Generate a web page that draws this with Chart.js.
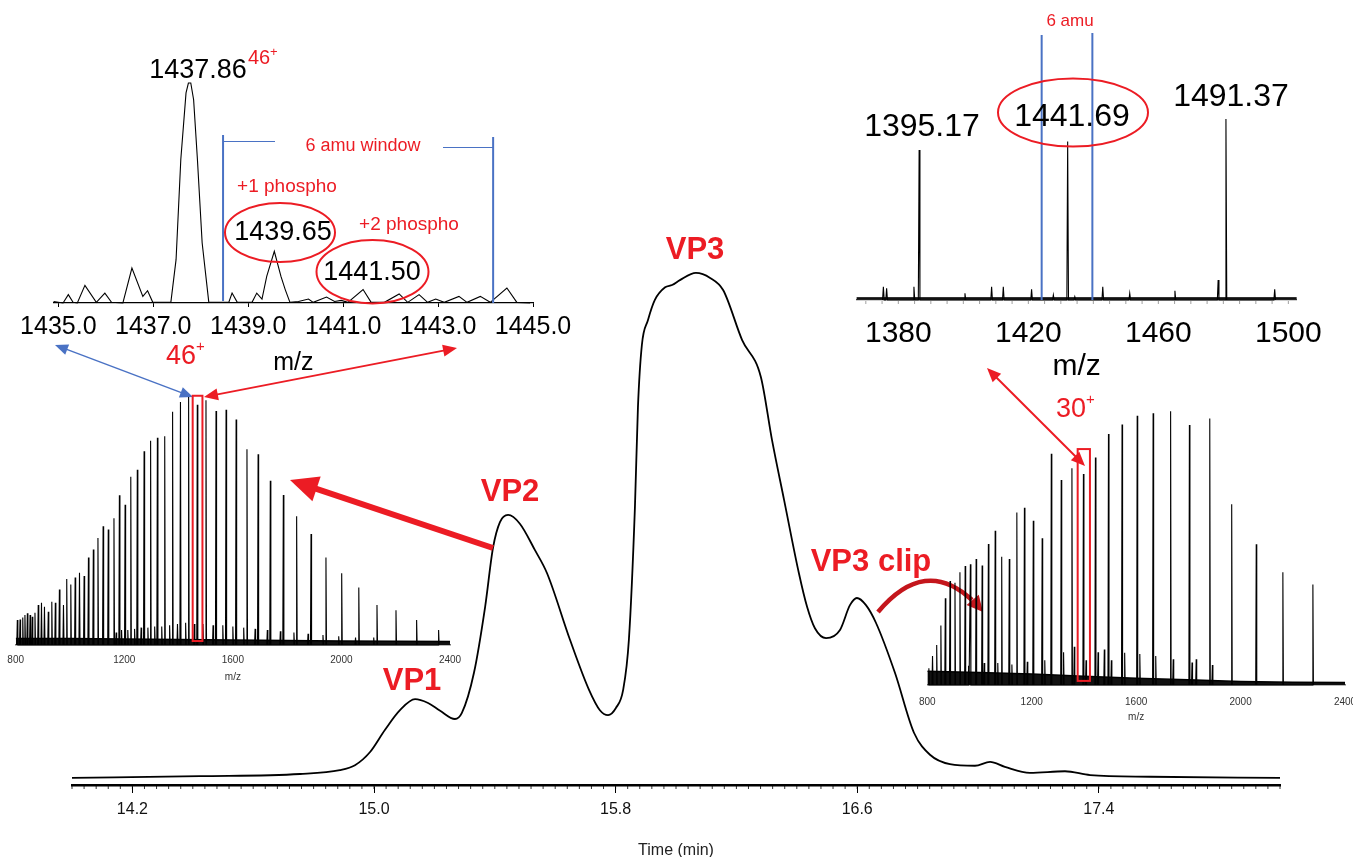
<!DOCTYPE html>
<html>
<head>
<meta charset="utf-8">
<script src="https://cdn.jsdelivr.net/npm/chart.js@4.4.1/dist/chart.umd.min.js"></script>
<style>
html, body { margin: 0; padding: 0; background: #fff; overflow: hidden; }
#wrap { position: relative; width: 1353px; height: 857px; overflow: hidden; }
#wrap canvas { position: absolute; }
</style>
</head>
<body>
<div id="wrap">
  <canvas id="main" width="1353" height="860" style="left:0;top:0"></canvas>
  <canvas id="vp2" width="470" height="310" style="left:0;top:380px"></canvas>
  <canvas id="clip" width="453" height="335" style="left:900px;top:390px"></canvas>
  <canvas id="zoomL" width="600" height="400" style="left:0;top:0"></canvas>
  <canvas id="zoomR" width="513" height="400" style="left:840px;top:0"></canvas>
</div>
<script>
// ---- chromatogram (time in min, relative intensity) ----
const timeMin = [14.000, 14.424, 14.755, 14.887, 14.937, 14.987, 15.036, 15.086, 15.136, 15.179,
  15.219, 15.268, 15.291, 15.331, 15.368, 15.394, 15.417, 15.444, 15.483, 15.533,
  15.573, 15.649, 15.712, 15.748, 15.775, 15.801, 15.825, 15.844, 15.864, 15.874,
  15.887, 15.907, 15.930, 15.964, 15.987, 16.013, 16.066, 16.113, 16.156, 16.219,
  16.281, 16.318, 16.358, 16.407, 16.434, 16.460, 16.497, 16.543, 16.576, 16.599,
  16.629, 16.662, 16.725, 16.788, 16.841, 16.907, 16.990, 17.040, 17.089, 17.172,
  17.288, 17.371, 17.570, 18.000];
const uvSignal = [1.3, 1.6, 2.0, 2.7, 3.6, 6.0, 10.0, 13.6, 15.6, 14.9,
  13.5, 12.0, 13.1, 20.4, 32.4, 43.1, 47.8, 49.1, 47.5, 42.7,
  38.5, 26.4, 17.3, 13.6, 12.7, 14.0, 17.3, 26.4, 50.5, 68.7,
  80.0, 84.5, 88.2, 90.5, 90.9, 91.8, 93.1, 92.2, 90.0, 80.9,
  74.2, 62.7, 51.8, 38.5, 32.4, 28.5, 26.7, 28.2, 32.7, 34.0,
  32.7, 29.5, 20.4, 9.5, 5.5, 3.8, 3.5, 4.2, 3.3, 2.2,
  2.5, 1.8, 1.5, 1.3];
const timeTicks = [14.2, 15.0, 15.8, 16.6, 17.4];

// ---- VP2 full mass spectrum ----
const vp2Mz = [806, 816, 826, 834, 843, 853, 861, 871, 883, 895, 906, 920, 933, 946, 961, 976, 988,
  1003, 1019, 1035, 1052, 1068, 1086, 1103, 1122, 1141, 1162, 1182, 1203, 1224, 1248, 1273,
  1297, 1322, 1349, 1378, 1407, 1437, 1469, 1501, 1538, 1575, 1612, 1652, 1693, 1738, 1786,
  1835, 1888, 1943, 2001, 2064, 2131, 2201, 2277, 2358];
const vp2Int = [10.1, 10.3, 11.1, 12.1, 12.8, 12.1, 11.4, 13.0, 16.1, 17.0, 15.4, 13.4, 17.4, 17.0,
  22.4, 16.1, 26.6, 24.4, 27.2, 29.1, 27.8, 35.3, 38.5, 43.1, 47.9, 46.6, 51.1, 60.4, 56.6,
  67.8, 70.7, 78.1, 82.4, 83.6, 84.2, 94.1, 98.0, 100, 96.9, 98.7, 94.4, 94.9, 90.9, 78.9,
  76.9, 66.2, 60.5, 51.9, 44.8, 35.3, 28.9, 23.2, 16.1, 14.0, 10.1, 6.0];
const vp2MinorMz = [1170, 1190, 1213, 1238, 1262, 1287, 1312, 1338, 1367, 1396, 1426, 1458, 1490,
  1527, 1563, 1600, 1640, 1682, 1727, 1775, 1825, 1877, 1932, 1990, 2052, 2119];
const vp2MinorInt = [5, 6, 6, 6.5, 7, 7, 7.5, 7.5, 8, 8.5, 9, 8.5, 8.5, 8, 8, 7.5, 7, 6.5, 6,
  5.5, 5, 4.5, 4, 3.5, 3, 3];
const vp2NoiseMz = [800, 1000, 1200, 1400, 1600, 1800, 2000, 2200, 2400];
const vp2NoiseInt = [2.6, 2.6, 2.4, 2.2, 2.0, 1.8, 1.6, 1.5, 1.4];

// ---- VP3 clip full mass spectrum ----
const clipMz = [806, 820, 836, 852, 869, 887, 906, 925, 945, 965, 987, 1010, 1034, 1060, 1085,
  1114, 1143, 1172, 1206, 1240, 1275, 1313, 1354, 1398, 1444, 1494, 1546, 1604, 1665, 1732,
  1804, 1882, 1966, 2060, 2162, 2277];
const clipInt = [6.1, 10.6, 14.6, 21.7, 31.7, 38.0, 37.4, 41.2, 43.5, 44.1, 46.0, 43.7, 51.5,
  56.4, 46.9, 46.0, 63.0, 64.8, 60.0, 53.6, 84.5, 74.9, 79.2, 77.1, 83.1, 91.7, 95.2, 98.4,
  99.3, 100, 95.0, 97.4, 66.0, 51.4, 41.2, 36.7];
const clipMinorMz = [958, 1018, 1070, 1124, 1183, 1250, 1322, 1363, 1408, 1454, 1478, 1505, 1556,
  1614, 1675, 1742, 1814, 1830, 1892];
const clipMinorInt = [7, 8, 8, 7.5, 8.5, 9, 12, 14, 9, 12, 13, 9, 11.8, 11.3, 10.6, 9.4, 8.2, 9.4, 7.3];
const clipNoiseMz = [800, 1000, 1200, 1400, 1600, 1800, 2000, 2200, 2400];
const clipNoiseInt = [5.0, 4.6, 4.0, 3.2, 2.5, 1.9, 1.3, 1.0, 0.9];

// ---- zoomed 46+ profile (VP2) ----
const zoomLMz = [1434.90, 1435.10, 1435.21, 1435.31, 1435.40, 1435.56, 1435.80, 1435.98, 1436.12,
  1436.36, 1436.55, 1436.78, 1436.88, 1436.99, 1437.37, 1437.48, 1437.58, 1437.69, 1437.74,
  1437.79, 1437.85, 1437.93, 1438.03, 1438.17, 1438.59, 1438.66, 1438.77, 1439.08, 1439.18,
  1439.29, 1439.39, 1439.55, 1439.69, 1439.78, 1439.88, 1440.06, 1440.27, 1440.37, 1440.65,
  1440.82, 1440.96, 1441.10, 1441.42, 1441.59, 1441.87, 1442.18, 1442.36, 1442.60, 1442.78,
  1442.95, 1443.13, 1443.44, 1443.61, 1443.89, 1444.10, 1444.45, 1444.66, 1444.94];
const zoomLInt = [0.7, 0, 3.8, 0.3, 0, 8.0, 0.3, 4.5, 0.3,
  0, 15.9, 3.0, 5.6, 0.3, 0.3, 19.7, 65.2, 95.5, 100,
  100, 92.4, 65.2, 27.3, 0.3, 0.3, 4.5, 0.3, 0.3, 4.5,
  1.8, 12.1, 23.5, 12.1, 6.1, 0.3, 0.7, 1.8, 0.3, 2.7,
  0.7, 1.2, 0.3, 6.1, 0.3, 0.3, 4.1, 0.3, 3.8, 0.3,
  1.8, 0.3, 3.0, 0.3, 3.0, 0.3, 6.8, 0.3, 0];
const zoomLTicks = [1435, 1437, 1439, 1441, 1443, 1445];
const zoomLWindow = [1438.47, 1444.16];

// ---- zoomed 30+ region (VP3 clip) ----
const zoomRMz = [1375.4, 1376.4, 1384.8, 1386.4, 1400.5, 1408.7, 1412.3, 1421.0, 1427.7, 1432.1,
  1434.3, 1442.9, 1451.2, 1465.1, 1478.4, 1480.8, 1495.8];
const zoomRInt = [7.3, 6.5, 7.3, 82.9, 3.7, 7.3, 7.3, 5.9, 2.8, 87.5,
  1.8, 7.3, 3.7, 5.1, 11.0, 100, 5.9];
const zoomRTicks = [1380, 1420, 1460, 1500];
const zoomRWindow = [1424.1, 1439.7];

const RED = '#ec1c24';
const BLUE = '#4a72c4';
const FONT = '"Liberation Sans", Arial, Helvetica, sans-serif';
Chart.defaults.font.family = FONT;
Chart.defaults.color = '#000';

function sticks(mz, inten, half) {
  const peaks = mz.map((m, i) => [m, inten[i]]).sort((a, b) => a[0] - b[0]);
  const pts = [];
  peaks.forEach(p => { pts.push({x: p[0] - half, y: 0}, {x: p[0], y: p[1]}, {x: p[0] + half, y: 0}); });
  return pts;
}
function pairs(xs, ys) { return xs.map((x, i) => ({x: x, y: ys[i]})); }

function fixedAxis(h) {
  return function (scale) { scale.height = h; scale.paddingLeft = 0; scale.paddingRight = 0; };
}

function text(ctx, s, x, y, font, color, align) {
  ctx.font = font;
  ctx.fillStyle = color;
  ctx.textAlign = align || 'center';
  ctx.textBaseline = 'middle';
  ctx.fillText(s, x, y);
}
function head(ctx, x1, y1, x2, y2, len, half) {
  const a = Math.atan2(y2 - y1, x2 - x1);
  const bx = x2 - len * Math.cos(a), by = y2 - len * Math.sin(a);
  ctx.beginPath();
  ctx.moveTo(x2, y2);
  ctx.lineTo(bx + half * Math.sin(a), by - half * Math.cos(a));
  ctx.lineTo(bx - half * Math.sin(a), by + half * Math.cos(a));
  ctx.closePath();
  ctx.fill();
}
function arrow(ctx, x1, y1, x2, y2, color, width, len, half, both) {
  ctx.save();
  ctx.strokeStyle = color; ctx.fillStyle = color; ctx.lineWidth = width;
  const a = Math.atan2(y2 - y1, x2 - x1);
  const sx = both ? x1 + len * 0.8 * Math.cos(a) : x1, sy = both ? y1 + len * 0.8 * Math.sin(a) : y1;
  ctx.beginPath();
  ctx.moveTo(sx, sy);
  ctx.lineTo(x2 - len * 0.8 * Math.cos(a), y2 - len * 0.8 * Math.sin(a));
  ctx.stroke();
  head(ctx, x1, y1, x2, y2, len, half);
  if (both) head(ctx, x2, y2, x1, y1, len, half);
  ctx.restore();
}
function ellipse(ctx, cx, cy, rx, ry) {
  ctx.save();
  ctx.strokeStyle = RED; ctx.lineWidth = 2;
  ctx.beginPath(); ctx.ellipse(cx, cy, rx, ry, 0, 0, Math.PI * 2); ctx.stroke();
  ctx.restore();
}

// ---------- main chromatogram ----------
new Chart(document.getElementById('main'), {
  type: 'line',
  data: { datasets: [{ data: pairs(timeMin, uvSignal), borderColor: '#000', borderWidth: 1.8,
    pointRadius: 0, cubicInterpolationMode: 'monotone', fill: false }] },
  options: {
    responsive: false, animation: false, events: [],
    layout: { padding: { left: 72, right: 73, top: 235, bottom: 0 } },
    plugins: { legend: { display: false }, tooltip: { enabled: false } },
    scales: {
      x: { type: 'linear', min: 14.0, max: 18.0, afterFit: fixedAxis(75),
        afterBuildTicks: s => { s.ticks = timeTicks.map(v => ({ value: v })); },
        border: { display: true, color: '#000', width: 2.5 },
        grid: { drawOnChartArea: false, drawTicks: true, tickLength: 8, color: '#000', lineWidth: 1 },
        ticks: { autoSkip: false, maxRotation: 0, padding: 7, font: { size: 16 }, color: '#111',
          callback: v => v.toFixed(1) },
        title: { display: true, text: 'Time (min)', font: { size: 16 }, color: '#222', padding: { top: 0, bottom: 0 } } },
      y: { display: false, min: 0, max: 100 }
    }
  },
  plugins: [{
    id: 'mainNotes',
    afterDraw(chart) {
      const ctx = chart.ctx, xs = chart.scales.x, b = chart.chartArea.bottom;
      ctx.save();
      ctx.strokeStyle = '#000'; ctx.lineWidth = 0.8;
      for (let t = 14.0; t <= 18.0001; t += 0.04) {
        const px = xs.getPixelForValue(t);
        ctx.beginPath(); ctx.moveTo(px, b); ctx.lineTo(px, b + 4); ctx.stroke();
      }
      const big = 'bold 31px ' + FONT;
      text(ctx, 'VP1', 412, 681, big, RED);
      text(ctx, 'VP2', 510, 492, big, RED);
      text(ctx, 'VP3', 695, 250, big, RED);
      text(ctx, 'VP3 clip', 871, 562, big, RED);
      // thick arrow VP2 -> spectrum
      arrow(ctx, 493, 548, 290, 480, RED, 6, 28, 13, false);
      // curved arrow VP3 clip -> spectrum
      ctx.strokeStyle = '#c4161c'; ctx.fillStyle = '#c4161c'; ctx.lineWidth = 4.5;
      ctx.beginPath(); ctx.moveTo(878, 612); ctx.quadraticCurveTo(925, 556, 972, 600); ctx.stroke();
      head(ctx, 966, 592, 983, 612, 16, 8);
      // connectors from the zoomed spectra to the boxed peaks
      arrow(ctx, 55, 345, 193, 397, BLUE, 1.5, 13, 5.5, true);
      arrow(ctx, 457, 348, 204, 397, RED, 2, 14, 6, true);
      arrow(ctx, 987, 368, 1085, 466, RED, 2, 14, 6, true);
      text(ctx, '46', 181, 357, '27px ' + FONT, RED, 'center');
      text(ctx, '+', 196, 347, '15px ' + FONT, RED, 'left');
      text(ctx, '30', 1071, 410, '27px ' + FONT, RED, 'center');
      text(ctx, '+', 1086, 400, '15px ' + FONT, RED, 'left');
      ctx.restore();
    }
  }]
});

// ---------- stick spectrum factory ----------
function spectrum(id, peaks, minor, noise, half, box, geom) {
  new Chart(document.getElementById(id), {
    type: 'line',
    data: { datasets: [
      { data: sticks(peaks[0].concat(minor[0]), peaks[1].concat(minor[1]), half), borderColor: '#000',
        borderWidth: 1.1, pointRadius: 0, tension: 0, fill: false, clip: false },
      { data: pairs(noise[0], noise[1]), borderColor: '#000', borderWidth: 1.5, backgroundColor: '#111',
        pointRadius: 0, tension: 0, fill: 'origin' }
    ] },
    options: {
      responsive: false, animation: false, events: [],
      layout: { padding: geom.pad },
      plugins: { legend: { display: false }, tooltip: { enabled: false } },
      scales: {
        x: { type: 'linear', min: 800, max: 2400, afterFit: fixedAxis(geom.axisH),
          afterBuildTicks: s => { s.ticks = [800, 1200, 1600, 2000, 2400].map(v => ({ value: v })); },
          border: { display: true, color: '#777', width: 1.5 },
          grid: { drawOnChartArea: false, drawTicks: false },
          ticks: { autoSkip: false, maxRotation: 0, padding: geom.tickPad, font: { size: 10 }, color: '#333',
            callback: v => String(v) },
          title: { display: true, text: 'm/z', font: { size: 10 }, color: '#333', padding: { top: 0, bottom: geom.titlePad } } },
        y: { display: false, min: 0, max: 100 }
      }
    },
    plugins: [{
      id: id + 'Box',
      afterDraw(chart) {
        const ctx = chart.ctx, xs = chart.scales.x, ys = chart.scales.y;
        ctx.save();
        ctx.strokeStyle = RED; ctx.lineWidth = 2;
        const x1 = xs.getPixelForValue(box[0]), x2 = xs.getPixelForValue(box[1]);
        const y1 = ys.getPixelForValue(box[3]), y2 = ys.getPixelForValue(box[2]);
        ctx.strokeRect(x1, y1, x2 - x1, y2 - y1);
        ctx.restore();
      }
    }]
  });
}

spectrum('vp2', [vp2Mz, vp2Int], [vp2MinorMz, vp2MinorInt], [vp2NoiseMz, vp2NoiseInt], 2,
  [1452, 1488, 1.6, 100.5], { pad: { left: 15.7, right: 20, top: 17, bottom: 0 }, axisH: 45, tickPad: 9, titlePad: 7 });
spectrum('clip', [clipMz, clipInt], [clipMinorMz, clipMinorInt], [clipNoiseMz, clipNoiseInt], 2,
  [1376, 1423, 1.5, 86.2], { pad: { left: 27.3, right: 8, top: 21.3, bottom: 0 }, axisH: 40, tickPad: 11, titlePad: 2 });

// ---------- zoomed 46+ window ----------
new Chart(document.getElementById('zoomL'), {
  type: 'line',
  data: { datasets: [{ data: pairs(zoomLMz, zoomLInt), borderColor: '#000', borderWidth: 1.1,
    pointRadius: 0, tension: 0, fill: false, clip: false }] },
  options: {
    responsive: false, animation: false, events: [],
    layout: { padding: { left: 53.6, right: 67, top: 83, bottom: 0 } },
    plugins: { legend: { display: false }, tooltip: { enabled: false } },
    scales: {
      x: { type: 'linear', min: 1434.9, max: 1445.0, afterFit: fixedAxis(97),
        afterBuildTicks: s => { s.ticks = zoomLTicks.map(v => ({ value: v })); },
        border: { display: true, color: '#000', width: 1.2 },
        grid: { drawOnChartArea: false, drawTicks: true, tickLength: 4, color: '#000' },
        ticks: { autoSkip: false, maxRotation: 0, padding: 5, font: { size: 25 }, color: '#000',
          callback: v => v.toFixed(1) },
        title: { display: true, text: 'm/z', font: { size: 25 }, color: '#000', padding: { top: 0, bottom: 22 } } },
      y: { display: false, min: 0, max: 100 }
    }
  },
  plugins: [{
    id: 'zoomLNotes',
    afterDraw(chart) {
      const ctx = chart.ctx, xs = chart.scales.x, b = chart.chartArea.bottom;
      ctx.save();
      const xa = xs.getPixelForValue(zoomLWindow[0]), xb = xs.getPixelForValue(zoomLWindow[1]);
      ctx.strokeStyle = BLUE; ctx.lineWidth = 2;
      ctx.beginPath(); ctx.moveTo(xa, 135); ctx.lineTo(xa, b - 2); ctx.stroke();
      ctx.beginPath(); ctx.moveTo(xb, 137); ctx.lineTo(xb, b); ctx.stroke();
      ctx.lineWidth = 1;
      ctx.beginPath(); ctx.moveTo(xa, 141.5); ctx.lineTo(275, 141.5); ctx.stroke();
      ctx.beginPath(); ctx.moveTo(443, 147.5); ctx.lineTo(xb, 147.5); ctx.stroke();
      text(ctx, '6 amu window', 363, 146, '18px ' + FONT, RED);
      text(ctx, '+1 phospho', 287, 187, '19px ' + FONT, RED);
      text(ctx, '+2 phospho', 409, 225, '19px ' + FONT, RED);
      const num = '27px ' + FONT;
      text(ctx, '1437.86', 198, 71, num, '#000');
      text(ctx, '46', 248, 58, '20px ' + FONT, RED, 'left');
      text(ctx, '+', 270, 52, '13px ' + FONT, RED, 'left');
      text(ctx, '1439.65', 283, 233, num, '#000');
      text(ctx, '1441.50', 372, 273, num, '#000');
      ellipse(ctx, 280, 232.5, 55, 29.5);
      ellipse(ctx, 372.5, 271.7, 56, 31.7);
      ctx.restore();
    }
  }]
});

// ---------- zoomed 30+ window ----------
new Chart(document.getElementById('zoomR'), {
  type: 'line',
  data: { datasets: [
    { data: sticks(zoomRMz, zoomRInt, 0.25), borderColor: '#000', borderWidth: 1.1,
      pointRadius: 0, tension: 0, fill: false, clip: false },
    { data: pairs([1367.1, 1502.6], [1.2, 1.2]), borderColor: '#000', borderWidth: 1.2, backgroundColor: '#222',
      pointRadius: 0, tension: 0, fill: 'origin' }
  ] },
  options: {
    responsive: false, animation: false, events: [],
    layout: { padding: { left: 16.4, right: 56.2, top: 119, bottom: 0 } },
    plugins: { legend: { display: false }, tooltip: { enabled: false } },
    scales: {
      x: { type: 'linear', min: 1367.1, max: 1502.6, afterFit: fixedAxis(100),
        afterBuildTicks: s => { s.ticks = zoomRTicks.map(v => ({ value: v })); },
        border: { display: true, color: '#444', width: 1.2 },
        grid: { drawOnChartArea: false, drawTicks: false },
        ticks: { autoSkip: false, maxRotation: 0, padding: 16, font: { size: 30 }, color: '#000',
          callback: v => String(v) },
        title: { display: true, text: 'm/z', font: { size: 30 }, color: '#000', padding: { top: 0, bottom: 15 } } },
      y: { display: false, min: 0, max: 100 }
    }
  },
  plugins: [{
    id: 'zoomRNotes',
    afterDraw(chart) {
      const ctx = chart.ctx, xs = chart.scales.x, b = chart.chartArea.bottom;
      ctx.save();
      ctx.translate(-840, 0);
      ctx.strokeStyle = '#888'; ctx.lineWidth = 0.8;
      for (let m = 1370; m <= 1500; m += 5) {
        const px = xs.getPixelForValue(m) + 840;
        ctx.beginPath(); ctx.moveTo(px, b + 1); ctx.lineTo(px, b + 4); ctx.stroke();
      }
      ctx.strokeStyle = BLUE; ctx.lineWidth = 2;
      zoomRWindow.forEach((m, i) => {
        const px = xs.getPixelForValue(m) + 840;
        ctx.beginPath(); ctx.moveTo(px, i ? 33 : 35); ctx.lineTo(px, b); ctx.stroke();
      });
      text(ctx, '6 amu', 1070, 21, '17px ' + FONT, RED);
      const num = '32px ' + FONT;
      text(ctx, '1395.17', 922, 127, num, '#000');
      text(ctx, '1441.69', 1072, 117, num, '#000');
      text(ctx, '1491.37', 1231, 97, num, '#000');
      ellipse(ctx, 1073, 112.5, 75, 34);
      ctx.restore();
    }
  }]
});
</script>
</body>
</html>
